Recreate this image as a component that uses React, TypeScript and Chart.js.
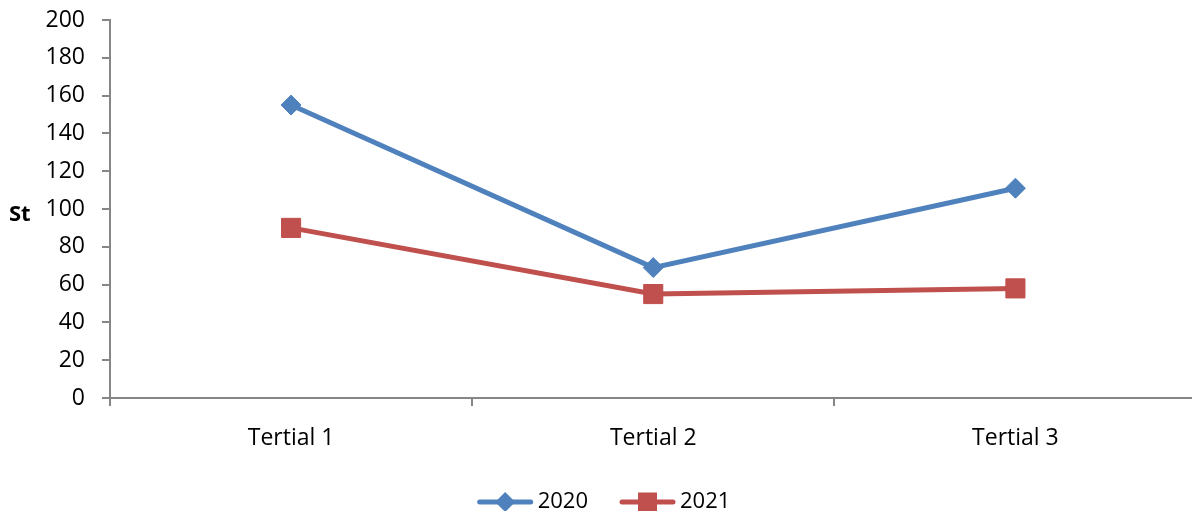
import React, { useEffect, useRef } from "react";
import { Chart, registerables } from "chart.js";

Chart.register(...registerables);

const categories = ["Tertial 1", "Tertial 2", "Tertial 3"];
const series2020 = [155, 69, 111];
const series2021 = [90, 55, 58];
const seriesNames = ["2020", "2021"];
const yTitle = "St";
const yMin = 0;
const yMax = 200;
const yStep = 20;

const BLUE = "#4F81BD";
const RED = "#C0504D";
const AXIS = "#868686";
const FONT = "'Open Sans', sans-serif";

const overlayPlugin = {
  id: "overlay",
  afterDraw(chart: any) {
    const ctx = chart.ctx;
    ctx.save();
    // y title
    ctx.fillStyle = "#000";
    ctx.font = `bold 22px ${FONT}`;
    ctx.textAlign = "left";
    ctx.textBaseline = "alphabetic";
    ctx.fillText(yTitle, 9, 221);

    // legend
    ctx.font = `22px ${FONT}`;
    const lineW = 55;
    const gapText = 5;
    const gapItem = 32;
    const items = [
      { name: seriesNames[0], color: BLUE, style: "diamond" },
      { name: seriesNames[1], color: RED, style: "square" },
    ];
    const widths = items.map((it) => lineW + gapText + ctx.measureText(it.name).width);
    const total = widths.reduce((a, b) => a + b, 0) + gapItem * (items.length - 1);
    let x = 604 - total / 2;
    const y = 502;
    items.forEach((it, i) => {
      ctx.strokeStyle = it.color;
      ctx.lineWidth = 5;
      ctx.lineCap = "round";
      ctx.beginPath();
      ctx.moveTo(x + 2, y);
      ctx.lineTo(x + lineW - 2, y);
      ctx.stroke();
      const cx = x + lineW / 2;
      ctx.fillStyle = it.color;
      ctx.beginPath();
      if (it.style === "diamond") {
        const r = 10;
        ctx.moveTo(cx, y - r);
        ctx.lineTo(cx + r, y);
        ctx.lineTo(cx, y + r);
        ctx.lineTo(cx - r, y);
        ctx.closePath();
      } else {
        const s = 9.5;
        ctx.rect(cx - s, y - s, 2 * s, 2 * s);
      }
      ctx.fill();
      ctx.fillStyle = "#000";
      ctx.textAlign = "left";
      ctx.textBaseline = "middle";
      ctx.fillText(it.name, x + lineW + gapText, y);
      x += widths[i] + gapItem;
    });
    ctx.restore();
  },
};

export default function App() {
  const ref = useRef<HTMLCanvasElement>(null);
  useEffect(() => {
    if (!ref.current) return;
    const chart = new Chart(ref.current, {
      type: "line",
      data: {
        labels: categories,
        datasets: [
          {
            label: seriesNames[0],
            data: series2020,
            borderColor: BLUE,
            backgroundColor: BLUE,
            borderWidth: 5,
            pointStyle: "rectRot",
            pointRadius: 10,
            pointBorderWidth: 1,
            pointBackgroundColor: BLUE,
            pointBorderColor: BLUE,
            tension: 0,
          },
          {
            label: seriesNames[1],
            data: series2021,
            borderColor: RED,
            backgroundColor: RED,
            borderWidth: 5,
            pointStyle: "rect",
            pointRadius: 13.5,
            pointBorderWidth: 1,
            pointBackgroundColor: RED,
            pointBorderColor: RED,
            tension: 0,
          },
        ],
      },
      options: {
        animation: false,
        responsive: false,
        maintainAspectRatio: false,
        layout: { padding: { top: 20, left: 0, right: 0, bottom: 0 } },
        plugins: {
          legend: { display: false },
          tooltip: { enabled: false },
        },
        scales: {
          x: {
            offset: true,
            grid: {
              display: true,
              offset: true,
              drawOnChartArea: false,
              drawTicks: true,
              tickLength: 8,
              color: AXIS,
              lineWidth: 2,
            },
            border: { display: true, color: AXIS, width: 2 },
            ticks: {
              color: "#000",
              font: { family: FONT, size: 23 },
              padding: 19,
              maxRotation: 0,
            },
            afterFit(scale: any) {
              scale.height = 113;
              scale.paddingLeft = 0;
              scale.paddingRight = 0;
            },
          },
          y: {
            min: yMin,
            max: yMax,
            grid: {
              display: true,
              drawOnChartArea: false,
              drawTicks: true,
              tickLength: 8,
              color: AXIS,
              lineWidth: 2,
            },
            border: { display: true, color: AXIS, width: 2 },
            ticks: {
              stepSize: yStep,
              color: "#000",
              font: { family: FONT, size: 23 },
              padding: 17,
            },
            afterFit(scale: any) {
              scale.width = 110;
              scale.paddingTop = 0;
              scale.paddingBottom = 0;
            },
          },
        },
      },
      plugins: [overlayPlugin],
    });
    return () => chart.destroy();
  }, []);
  return (
    <div style={{ position: "fixed", left: 0, top: 0, width: 1192, height: 511, overflow: "hidden", background: "#fff" }}>
      <canvas ref={ref} width={1211} height={511} style={{ width: 1211, height: 511, display: "block" }} />
    </div>
  );
}
